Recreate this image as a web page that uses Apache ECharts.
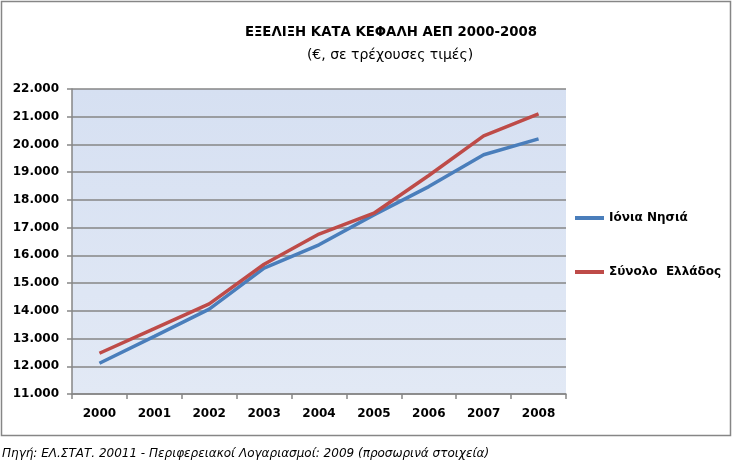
<!DOCTYPE html>
<html>
<head>
<meta charset="utf-8">
<script src="https://cdn.jsdelivr.net/npm/echarts@6/dist/echarts.min.js"></script>
<style>html,body{margin:0;padding:0;background:#fff}#c{width:732px;height:474px}</style>
</head>
<body>
<div id="c"></div>
<script>
var years = ['2000','2001','2002','2003','2004','2005','2006','2007','2008'];
var ionia = [12110, 13080, 14060, 15540, 16380, 17460, 18480, 19630, 20200];
var greece = [12470, 13360, 14250, 15680, 16770, 17520, 18880, 20310, 21100];
var seriesNames = ['Ιόνια Νησιά', 'Σύνολο  Ελλάδος'];
var titleText = 'ΕΞΕΛΙΞΗ ΚΑΤΑ ΚΕΦΑΛΗ ΑΕΠ 2000-2008';
var subtitleText = '(€, σε τρέχουσες τιμές)';
var sourceText = 'Πηγή: ΕΛ.ΣΤΑΤ. 20011 - Περιφερειακοί Λογαριασμοί: 2009 (προσωρινά στοιχεία)';

var font = '"DejaVu Sans", sans-serif';
var chart = echarts.init(document.getElementById('c'), null, {renderer: 'canvas'});
function fmt(v){ return String(v).replace(/\B(?=(\d{3})+(?!\d))/g, '.'); }
chart.setOption({
  animation: false,
  textStyle: {fontFamily: font},
  graphic: [
    {type: 'rect', shape: {x: 1.5, y: 1.5, width: 729, height: 434}, style: {fill: 'none', stroke: '#868686', lineWidth: 1.5}, z: -10},
    {type: 'text', left: 2, top: 448, style: {text: sourceText, font: 'oblique 12px ' + font, fill: '#000'}}
  ],
  title: [
    {text: titleText, left: 386, top: 21, textAlign: 'center',
     textStyle: {fontSize: 13.3, fontWeight: 'bold', color: '#000', fontFamily: font}},
    {text: subtitleText, left: 385, top: 43, textAlign: 'center',
     textStyle: {fontSize: 14, fontWeight: 'normal', color: '#000', fontFamily: font}}
  ],
  legend: {
    orient: 'vertical', left: 570, top: 207, itemGap: 42, itemWidth: 29, itemHeight: 4,
    icon: 'rect',
    textStyle: {fontSize: 12, fontWeight: 'bold', color: '#000', fontFamily: font},
    data: seriesNames
  },
  grid: {
    left: 72, right: 166, top: 89, bottom: 80, show: true, borderWidth: 0,
    backgroundColor: new echarts.graphic.LinearGradient(0, 0, 0, 1, [{offset: 0, color: '#d6e0f2'}, {offset: 1, color: '#e2e9f5'}])
  },
  xAxis: {
    type: 'category', data: years, boundaryGap: true,
    axisLine: {lineStyle: {color: '#868686', width: 1.5}},
    axisTick: {show: true, length: 5, lineStyle: {color: '#868686', width: 1.5}},
    axisLabel: {fontSize: 12, fontWeight: 'bold', color: '#000', margin: 14, fontFamily: font}
  },
  yAxis: {
    type: 'value', min: 11000, max: 22000, interval: 1000,
    axisLine: {show: true, lineStyle: {color: '#868686', width: 1.5}},
    axisTick: {show: true, length: 5, lineStyle: {color: '#868686', width: 1.5}},
    splitLine: {lineStyle: {color: '#868686', width: 1.5}},
    axisLabel: {fontSize: 12, fontWeight: 'bold', color: '#000', margin: 13, formatter: fmt, fontFamily: font}
  },
  series: [
    {name: seriesNames[0], type: 'line', data: ionia, symbol: 'none', lineStyle: {color: '#4a7ebb', width: 3.5}, itemStyle: {color: '#4a7ebb'}},
    {name: seriesNames[1], type: 'line', data: greece, symbol: 'none', lineStyle: {color: '#be4b48', width: 3.5}, itemStyle: {color: '#be4b48'}}
  ]
});
</script>
</body>
</html>
